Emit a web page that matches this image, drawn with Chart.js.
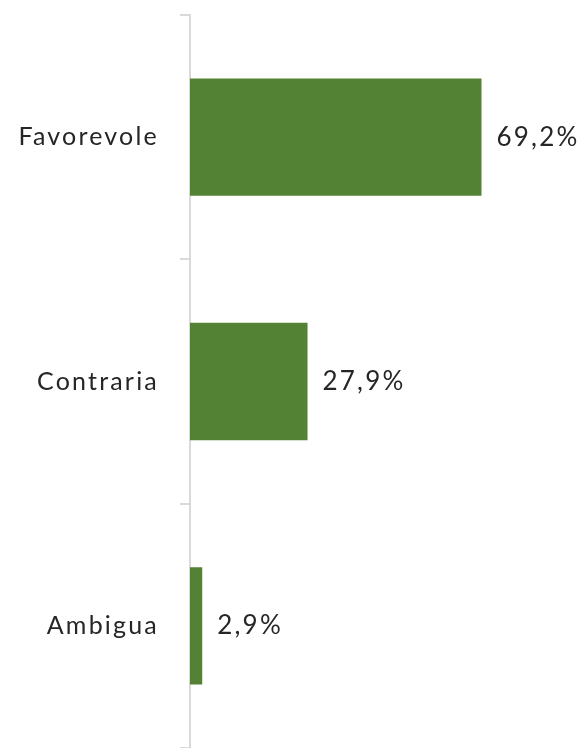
<!DOCTYPE html>
<html>
<head>
<meta charset="utf-8">
<script src="https://cdn.jsdelivr.net/npm/chart.js@4"></script>
<style>
  html, body { margin: 0; padding: 0; background: #fff; }
  #wrap { width: 585px; height: 748px; position: relative; }
</style>
</head>
<body>
<div id="wrap"><canvas id="chart"></canvas></div>
<script>
const categories = ["Favorevole", "Contraria", "Ambigua"];
const values = [69.2, 27.9, 2.9];
const valueLabels = ["69,2%", "27,9%", "2,9%"];

const textColor = "#262626";
const fontFamily = "Lato, 'Open Sans', sans-serif";

// letter spacing for the axis labels, and the percentage next to each bar
const barLabels = {
    id: "barLabels",
    beforeDraw(chart) {
        chart.ctx.letterSpacing = "2.2px";
    },
    afterDatasetsDraw(chart) {
        const ctx = chart.ctx;
        const meta = chart.getDatasetMeta(0);
        ctx.save();
        ctx.letterSpacing = "2.2px";
        ctx.font = "26px " + fontFamily;
        ctx.fillStyle = textColor;
        ctx.textAlign = "left";
        ctx.textBaseline = "middle";
        meta.data.forEach(function (bar, i) {
            ctx.fillText(valueLabels[i], bar.x + 15, bar.y);
        });
        ctx.restore();
    }
};

new Chart(document.getElementById("chart"), {
    type: "bar",
    data: {
        labels: categories,
        datasets: [{
            data: values,
            backgroundColor: "#548235",
            categoryPercentage: 1,
            barPercentage: 0.48,
        }],
    },
    options: {
        indexAxis: "y",
        responsive: true,
        maintainAspectRatio: false,
        animation: false,
        layout: { padding: { top: 15, right: 58, bottom: -2, left: 0 } },
        plugins: { legend: { display: false }, tooltip: { enabled: false } },
        scales: {
            x: {
                display: false,
                min: 0,
                max: 80,
            },
            y: {
                afterFit: function (scale) {
                    scale.width = 190;
                    scale.paddingTop = 0;
                    scale.paddingBottom = 0;
                },
                grid: {
                    drawOnChartArea: false,
                    tickLength: 10,
                    color: "#d9d9d9",
                    lineWidth: 2,
                    offset: true,
                },
                border: { color: "#d9d9d9", width: 2 },
                ticks: {
                    color: textColor,
                    padding: 21,
                    font: { family: fontFamily, size: 25 },
                },
            },
        },
    },
    plugins: [barLabels],
});
</script>
</body>
</html>
